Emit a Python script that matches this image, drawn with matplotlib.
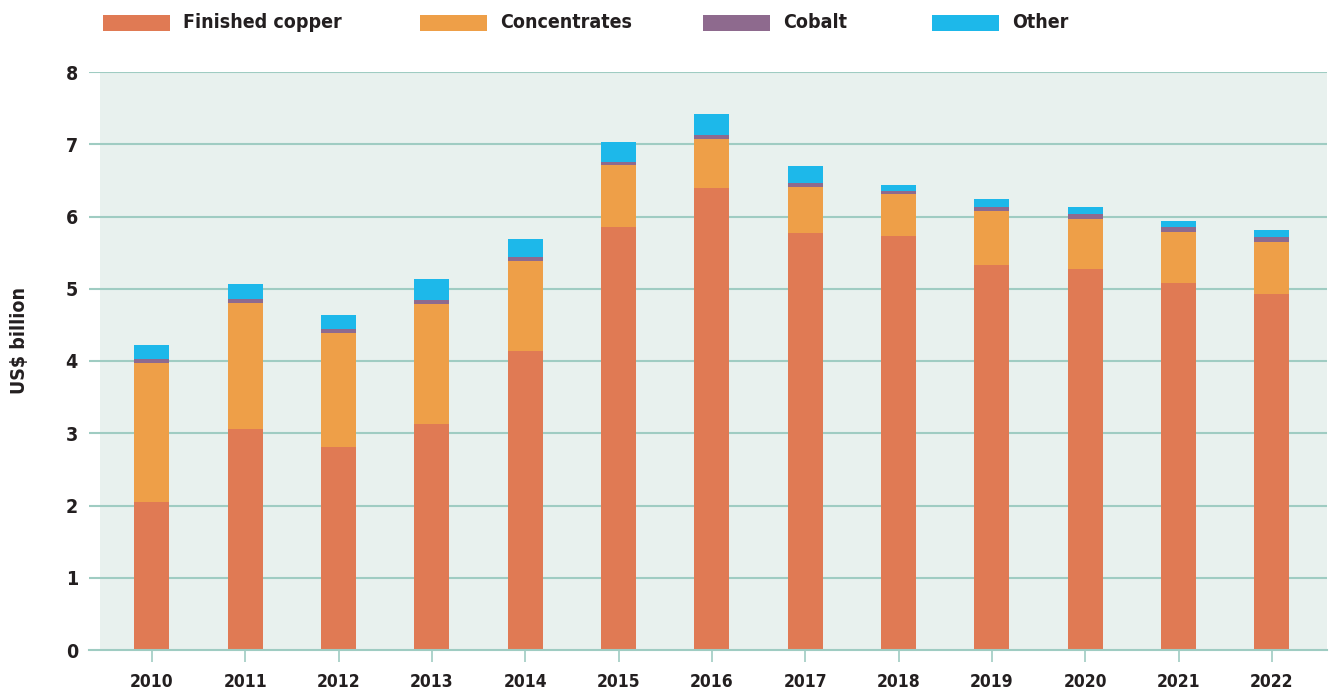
import matplotlib
matplotlib.use("Agg")
import matplotlib.pyplot as plt
from matplotlib import font_manager
from matplotlib.patches import Rectangle
import numpy as np

# Données (US$ milliards)
years = [2010, 2011, 2012, 2013, 2014, 2015, 2016, 2017, 2018, 2019, 2020, 2021, 2022]
finished_copper = [2.05, 3.06, 2.81, 3.13, 4.14, 5.85, 6.39, 5.77, 5.73, 5.33, 5.27, 5.08, 4.93]
concentrates = [1.92, 1.74, 1.58, 1.66, 1.24, 0.86, 0.68, 0.64, 0.58, 0.75, 0.70, 0.71, 0.72]
cobalt = [0.06, 0.06, 0.05, 0.05, 0.06, 0.04, 0.06, 0.05, 0.04, 0.05, 0.06, 0.06, 0.07]
other = [0.19, 0.21, 0.20, 0.29, 0.25, 0.28, 0.29, 0.24, 0.09, 0.11, 0.10, 0.09, 0.09]

series_names = ["Finished copper", "Concentrates", "Cobalt", "Other"]
series_colors = ["#E07A54", "#EE9F48", "#8E6A8E", "#1DB8EA"]
y_ticks = [0, 1, 2, 3, 4, 5, 6, 7, 8]

# Choix d'une police condensée si disponible
fonts = font_manager.fontManager.ttflist
has_dv_cond = any(f.name == "DejaVu Sans" and "condensed" in str(f.stretch) for f in fonts)
names = {f.name for f in fonts}
if has_dv_cond:
    plt.rcParams["font.family"] = ["DejaVu Sans"]
    plt.rcParams["font.stretch"] = "condensed"
elif "Liberation Sans Narrow" in names:
    plt.rcParams["font.family"] = ["Liberation Sans Narrow", "DejaVu Sans"]
else:
    plt.rcParams["font.family"] = ["DejaVu Sans"]

grid_color = "#9FCCC2"
text_color = "#231F20"

fig = plt.figure(figsize=(13.31, 6.93), dpi=100)
W, H = 1331, 693
ax = fig.add_axes([89 / W, (H - 650) / H, (1327 - 89) / W, (650 - 72) / H])

# Fond de la zone de tracé
ax.add_patch(Rectangle(((100 - 89) / 1238, 0), 1 - (100 - 89) / 1238, 1, transform=ax.transAxes,
                       facecolor="#E8F1EE", edgecolor="none", zorder=0))

x = np.array(years)
bottom = np.zeros(len(years))
for vals, name, col in zip([finished_copper, concentrates, cobalt, other], series_names, series_colors):
    ax.bar(x, vals, width=0.375, bottom=bottom, color=col, label=name, zorder=3, linewidth=0)
    bottom += np.array(vals)

ax.set_xlim(2010 - 0.675, 2022 + 0.59)
ax.set_ylim(0, 8)
ax.set_yticks(y_ticks)
ax.set_xticks(years)
ax.set_xticklabels([str(y) for y in years])

for yv in y_ticks[1:]:
    ax.axhline(yv, color=grid_color, linewidth=1.5, zorder=1)

for s in ["top", "right", "left"]:
    ax.spines[s].set_visible(False)
ax.spines["bottom"].set_color(grid_color)
ax.spines["bottom"].set_linewidth(1.5)
ax.spines["bottom"].set_zorder(4)

ax.tick_params(axis="x", length=8.6, width=1.2, color=grid_color, pad=8,
               labelsize=12.5, labelcolor=text_color)
ax.tick_params(axis="y", length=0, pad=8, labelsize=14, labelcolor=text_color)
for lab in ax.get_xticklabels() + ax.get_yticklabels():
    lab.set_fontweight("bold")

fig.text(20 / W, 1 - 340 / H, "US$ billion", rotation=90, ha="center", va="center",
         fontsize=14, fontweight="bold", color=text_color)

# Légende manuelle en haut
patch_x = [103, 420, 703, 932]
for px, name, col in zip(patch_x, series_names, series_colors):
    fig.add_artist(Rectangle((px / W, 1 - 31 / H), 67 / W, 16 / H, transform=fig.transFigure,
                             facecolor=col, edgecolor="none"))
    fig.text((px + 80) / W, 1 - 23 / H, name, ha="left", va="center",
             fontsize=14, fontweight="bold", color=text_color)

fig.savefig("out.png", dpi=100)
